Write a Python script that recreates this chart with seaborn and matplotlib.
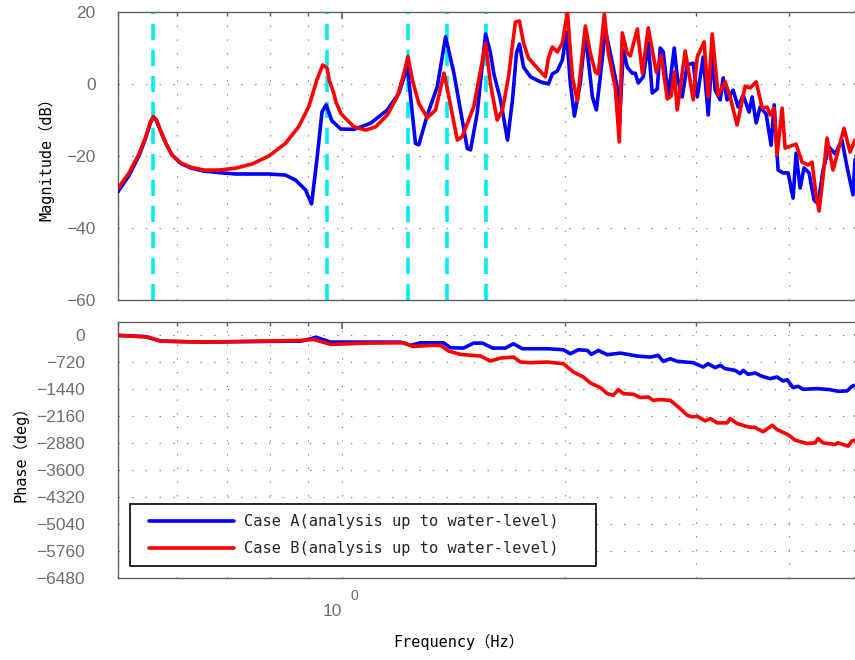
import matplotlib
matplotlib.use("Agg")
import numpy as np
import pandas as pd
import matplotlib.pyplot as plt
import seaborn as sns
from matplotlib.lines import Line2D
from matplotlib.legend_handler import HandlerLine2D
from matplotlib.ticker import LogLocator, NullFormatter, FixedLocator, FixedFormatter
from matplotlib.transforms import ScaledTranslation

# ---- data -------------------------------------------------------------
series_names = ["Case A(analysis up to water-level)",
                "Case B(analysis up to water-level)"]

freq_mag_a = [0.500, 0.517, 0.534, 0.545, 0.553, 0.558, 0.563, 0.571, 0.580, 0.591,
              0.607, 0.626, 0.652, 0.683, 0.720, 0.758, 0.798, 0.840, 0.867, 0.894,
              0.911, 0.926, 0.941, 0.953, 0.970, 0.997, 1.039, 1.094, 1.152, 1.194,
              1.226, 1.257, 1.270, 1.304, 1.345, 1.380, 1.416, 1.476, 1.491, 1.522,
              1.562, 1.586, 1.602, 1.636, 1.672, 1.698, 1.719, 1.735, 1.757, 1.795,
              1.851, 1.898, 1.921, 1.951, 1.982, 2.007, 2.031, 2.057, 2.076, 2.095,
              2.128, 2.175, 2.202, 2.229, 2.264, 2.299, 2.350, 2.364, 2.394, 2.423,
              2.461, 2.484, 2.507, 2.547, 2.586, 2.618, 2.659, 2.684, 2.709, 2.751,
              2.803, 2.829, 2.873, 2.918, 2.973, 3.010, 3.066, 3.114, 3.153, 3.182,
              3.232, 3.262, 3.302, 3.364, 3.417, 3.470, 3.535, 3.568, 3.613, 3.658,
              3.726, 3.784, 3.820, 3.867, 3.927, 3.989, 4.051, 4.089, 4.140, 4.191,
              4.257, 4.323, 4.377, 4.445, 4.528, 4.613, 4.714, 4.788, 4.878, 4.908]
mag_a = [-29.9, -25.5, -19.8, -14.9, -10.7, -9.1, -10.0, -13.2, -16.5, -19.7,
         -22.0, -23.3, -24.2, -24.6, -25.0, -25.0, -25.0, -25.3, -26.7, -29.4,
         -33.3, -21.1, -7.7, -5.8, -10.2, -12.5, -12.6, -10.9, -7.2, -2.6,
         4.8, -16.5, -16.9, -8.6, -0.7, 13.1, 3.0, -17.9, -18.3, -8.1,
         13.9, 8.6, 3.0, -4.4, -15.6, -4.4, 8.6, 11.1, 4.7, 2.0,
         0.6, 0.0, 2.8, 3.6, 6.7, 14.4, 0.3, -8.9, -4.4, 0.3,
         14.2, -3.6, -7.2, 2.0, 15.0, 8.6, -1.1, -11.9, 9.4, 4.7,
         3.0, 3.0, 0.3, 2.0, 11.4, -2.5, -1.4, 10.0, 8.9, -3.6,
         10.0, 2.0, -3.6, 5.3, 5.8, -3.6, 7.5, -8.6, 8.6, -1.7,
         -4.4, 1.7, -4.4, -1.7, -6.4, -3.1, -7.8, -3.6, -10.8, -6.4,
         -8.3, -17.0, -5.8, -23.9, -24.7, -24.7, -31.7, -19.2, -28.9, -23.3,
         -24.7, -32.2, -33.3, -23.9, -17.5, -19.4, -15.6, -23.0, -30.8, -21.0]

freq_mag_b = [0.500, 0.517, 0.534, 0.545, 0.553, 0.558, 0.563, 0.571, 0.580, 0.591,
              0.607, 0.626, 0.652, 0.683, 0.720, 0.758, 0.798, 0.840, 0.875, 0.903,
              0.926, 0.943, 0.956, 0.962, 0.976, 0.982, 0.997, 1.007, 1.039, 1.077,
              1.111, 1.152, 1.188, 1.213, 1.228, 1.245, 1.270, 1.304, 1.338, 1.373,
              1.394, 1.431, 1.453, 1.506, 1.562, 1.586, 1.619, 1.646,
              1.677, 1.713, 1.735, 1.757, 1.784, 1.834, 1.880,
              1.898, 1.921, 1.951, 1.982, 2.013, 2.044, 2.076, 2.128, 2.161, 2.195,
              2.215, 2.257, 2.285, 2.335, 2.364, 2.386, 2.423, 2.446, 2.500, 2.539,
              2.586, 2.651, 2.692, 2.743, 2.777, 2.803, 2.829, 2.900, 2.973, 3.010,
              3.075, 3.114, 3.153, 3.212, 3.282, 3.333, 3.406, 3.492, 3.546, 3.613,
              3.681, 3.738, 3.773, 3.820, 3.855, 3.916, 3.952, 4.089, 4.165, 4.244,
              4.296, 4.350, 4.391, 4.445, 4.500, 4.585, 4.744, 4.833, 4.908]
mag_b = [-29.0, -24.8, -19.3, -14.6, -10.5, -9.1, -10.0, -13.2, -16.5, -19.7,
         -21.9, -23.1, -23.9, -23.9, -23.4, -22.2, -20.0, -16.5, -11.9, -6.3,
         1.1, 5.3, 4.4, 1.1, -2.6, -4.9, -8.1, -9.1, -11.9, -12.8,
         -11.9, -8.6, -3.5, 3.0, 7.6, 1.1, -5.4, -9.4, -7.2, 3.0,
         -3.5, -15.6, -14.6, -6.3, 11.3, 0.0, -10.0, -7.2,
         2.0, 17.2, 17.5, 11.4, 7.2, 4.4, 2.0,
         7.2, 10.3, 8.9, 11.4, 20.0, 2.0, -4.7, 16.1, 8.6, 3.3,
         2.8, 19.4, 8.6, -1.1, -16.1, 14.2, 8.6, 7.8, 15.3, 3.0,
         15.6, 3.3, 8.0, -4.2, -3.3, 3.3, -7.2, 9.2, -4.4, 7.5,
         11.7, -3.6, 13.9, -3.1, 0.6, -3.6, -11.4, -0.6, -1.1, 0.6,
         -6.7, -6.4, -8.6, -6.7, -19.7, -6.7, -17.8, -16.7, -21.7, -22.5,
         -21.7, -30.8, -35.3, -25.8, -15.0, -23.9, -12.3, -18.9, -15.6]

freq_phase_a = [0.502, 0.542, 0.571, 0.646, 0.881, 0.909, 0.923, 0.946, 0.967, 1.200,
                1.238, 1.277, 1.317, 1.371, 1.401, 1.459, 1.505, 1.547, 1.596, 1.661,
                1.703, 1.751, 1.892, 1.988, 2.031, 2.082, 2.141, 2.168, 2.215, 2.278,
                2.372, 2.500, 2.602, 2.667, 2.709, 2.768, 2.829, 2.973, 3.066, 3.114,
                3.182, 3.232, 3.282, 3.385, 3.438, 3.470, 3.524, 3.602, 3.681, 3.773,
                3.855, 3.927, 3.976, 4.051, 4.114, 4.178, 4.364, 4.542, 4.657, 4.788,
                4.863, 4.908]
phase_a = [0, -27, -151, -178, -151, -89, -45, -116, -178, -178,
           -267, -196, -196, -196, -329, -338, -205, -205, -338, -338,
           -223, -356, -356, -383, -490, -383, -401, -507, -401, -516,
           -472, -552, -579, -534, -694, -623, -694, -730, -846, -757,
           -863, -801, -890, -935, -1024, -935, -1041, -1006, -1095, -1157,
           -1113, -1219, -1184, -1397, -1362, -1442, -1424, -1451, -1495, -1486,
           -1362, -1335]

freq_phase_b = [0.502, 0.549, 0.571, 0.646, 0.881, 0.917, 0.967, 1.084, 1.212, 1.246,
                1.317, 1.359, 1.393, 1.445, 1.538, 1.586, 1.636, 1.703, 1.740, 1.795,
                1.892, 1.988, 2.051, 2.115, 2.161, 2.229, 2.278, 2.321, 2.357, 2.394,
                2.469, 2.523, 2.586, 2.626, 2.684, 2.768, 2.838, 2.918, 2.963, 3.010,
                3.085, 3.133, 3.202, 3.302, 3.333, 3.406, 3.524, 3.602, 3.692, 3.796,
                3.855, 3.976, 4.014, 4.076, 4.231, 4.337, 4.377, 4.445, 4.613, 4.657,
                4.803, 4.863, 4.908]
phase_b = [0, -45, -151, -178, -134, -107, -240, -205, -196, -294,
           -267, -267, -418, -507, -552, -685, -605, -579, -712, -730,
           -712, -757, -979, -1113, -1273, -1397, -1558, -1602, -1451, -1558,
           -1575, -1664, -1647, -1736, -1718, -1736, -1914, -2136, -2181, -2163,
           -2287, -2225, -2341, -2341, -2225, -2359, -2448, -2465, -2581, -2403,
           -2519, -2643, -2697, -2804, -2893, -2875, -2759, -2875, -2919, -2875,
           -2964, -2821, -2804]

# natural frequencies marked with dashed lines
mode_freqs = [0.557, 0.955, 1.230, 1.388, 1.562]

mag_ticks = [-60, -40, -20, 0, 20]
phase_ticks = [0, -720, -1440, -2160, -2880, -3600, -4320, -5040, -5760, -6480]

# ---- tidy tables -----------------------------------------------------
mag_df = pd.concat([
    pd.DataFrame({"freq": freq_mag_a, "value": mag_a, "case": series_names[0]}),
    pd.DataFrame({"freq": freq_mag_b, "value": mag_b, "case": series_names[1]}),
], ignore_index=True)
phase_df = pd.concat([
    pd.DataFrame({"freq": freq_phase_a, "value": phase_a, "case": series_names[0]}),
    pd.DataFrame({"freq": freq_phase_b, "value": phase_b, "case": series_names[1]}),
], ignore_index=True)

palette = {series_names[0]: "#0000FF", series_names[1]: "#FF0000"}

# ---- style -----------------------------------------------------------
sns.set_theme(style="white")
plt.rcParams["font.family"] = ["Liberation Sans", "DejaVu Sans"]
plt.rcParams["axes.unicode_minus"] = True

label_font = ["DejaVu Sans Mono", "Noto Sans CJK JP"]
spine_col = "#5f5f5f"
tick_col = "#6e6e6e"
grid_kw = dict(color="#8a8a8a", linestyle=(0, (1.3, 11)), linewidth=0.8)

W, H = 855, 660
fig = plt.figure(figsize=(W / 100, H / 100), dpi=100)
ax1 = fig.add_axes([118 / W, 1 - 300 / H, 743 / W, 288 / H])
ax2 = fig.add_axes([118 / W, 1 - 577.5 / H, 743 / W, 255.5 / H])

for ax in (ax1, ax2):
    ax.set_xscale("log")
    ax.set_xlim(0.5, 5.0)
    ax.xaxis.set_major_locator(FixedLocator([1.0]))
    ax.xaxis.set_minor_locator(LogLocator(base=10, subs=np.arange(2, 10)))
    ax.xaxis.set_minor_formatter(NullFormatter())
    for s in ax.spines.values():
        s.set_color(spine_col)
        s.set_linewidth(1.0)
    ax.tick_params(which="both", direction="in", top=True, right=True,
                   color=spine_col, labelcolor=tick_col, labelsize=12.5)
    ax.tick_params(which="major", length=5)
    ax.tick_params(which="minor", length=3)
    ax.grid(which="both", axis="x", **grid_kw)
    ax.grid(which="major", axis="y", **grid_kw)
    ax.set_axisbelow(True)

# ---- magnitude -------------------------------------------------------
for f in mode_freqs:
    ax1.axvline(f, color="#00EEEE", linestyle=(0, (4.5, 2.7)), linewidth=2.6, zorder=1.5)

sns.lineplot(data=mag_df, x="freq", y="value", hue="case", palette=palette,
             hue_order=series_names, estimator=None, sort=False,
             linewidth=2.6, legend=False, ax=ax1, zorder=3)
ax1.set_ylim(-60, 20)
ax1.set_yticks(mag_ticks)
ax1.tick_params(axis="x", which="both", labelbottom=False)
ax1.tick_params(axis="y", pad=16)
ax1.set_xlabel("")
ax1.set_ylabel("Magnitude（dB）", family=label_font, fontsize=11, color="black")
ax1.yaxis.set_label_coords(-0.085, 0.5)

# ---- phase -----------------------------------------------------------
sns.lineplot(data=phase_df, x="freq", y="value", hue="case", palette=palette,
             hue_order=series_names, estimator=None, sort=False,
             linewidth=2.6, ax=ax2, zorder=3)
ax2.set_ylim(-6480, 360)
ax2.set_yticks(phase_ticks)
ax2.tick_params(axis="y", pad=24)
ax2.xaxis.set_major_formatter(FixedFormatter(["10"]))
ax2.tick_params(axis="x", which="major", pad=19)
for lab in ax2.get_xticklabels():
    lab.set_transform(lab.get_transform() + ScaledTranslation(-9 / 100, 0, fig.dpi_scale_trans))
ax2.annotate("0", xy=(1.0, 0.0), xycoords=("data", "axes fraction"),
             xytext=(13, -19), textcoords="offset pixels",
             ha="center", va="center", fontsize=10, color=tick_col)
ax2.set_xlabel("Frequency（Hz）", family=label_font, fontsize=11, color="black")
ax2.xaxis.set_label_coords(0.459, -0.22)
ax2.set_ylabel("Phase（deg）", family=label_font, fontsize=11, color="black")
ax2.yaxis.set_label_coords(-0.121, 0.5)

handles, labels = ax2.get_legend_handles_labels()
leg = ax2.legend(handles, labels, loc="lower left",
                 bbox_to_anchor=(12 / 743, 11.5 / 255.5, 466 / 743, 0.25),
                 mode="expand", frameon=True, fancybox=False, framealpha=1,
                 edgecolor="black", borderaxespad=0,
                 prop={"family": "DejaVu Sans Mono", "size": 11.1},
                 handlelength=6.1, handletextpad=0.65, borderpad=0.65,
                 labelspacing=0.75,
                 handler_map={Line2D: HandlerLine2D(xpad=0.55)})
leg.get_frame().set_linewidth(1.2)
for h in leg.get_lines():
    h.set_linewidth(2.6)

fig.savefig("out.png", dpi=100)
